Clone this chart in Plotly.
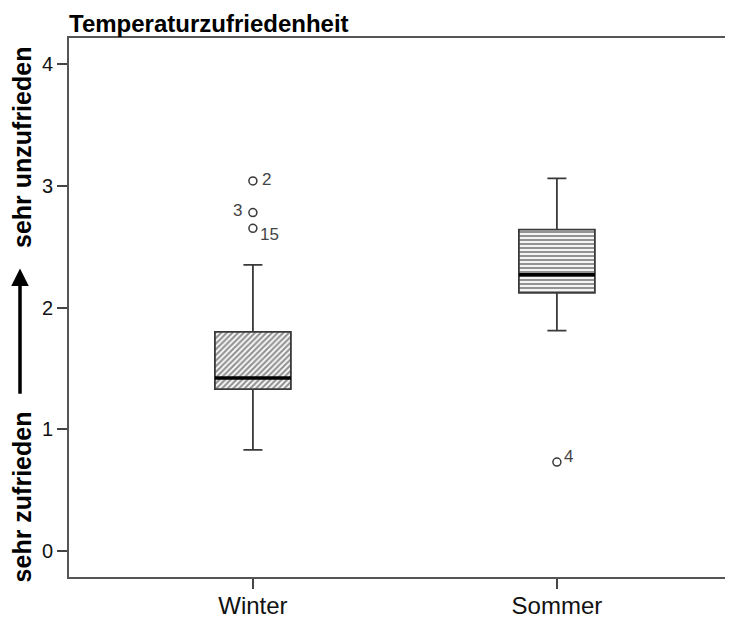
import plotly.graph_objects as go

# Box statistics
seasons = ["Winter", "Sommer"]
q1 = [1.33, 2.12]
median = [1.42, 2.27]
q3 = [1.80, 2.64]
lower_whisker = [0.83, 1.81]
upper_whisker = [2.35, 3.06]

# Outliers with their case numbers
out_group = [0, 0, 0, 1]
out_value = [3.04, 2.78, 2.65, 0.73]
out_case = ["2", "3", "15", "4"]
out_shift = [(14, 1), (-15, 2), (17, -6), (12, 6)]

patterns = ["/", "-"]
box_w = 0.25
font = "Liberation Sans, Arial, sans-serif"
line_col = "#3a3a3a"
pos = list(range(len(seasons)))

fig = go.Figure()

# hatched box bodies
for i in pos:
    fig.add_trace(go.Bar(
        x=[i], y=[q3[i] - q1[i]], base=[q1[i]], width=box_w,
        marker=dict(color="white", line=dict(width=0),
                    pattern=dict(shape=patterns[i], fgcolor="#2a2a2a", bgcolor="white",
                                 size=4, solidity=0.55)),
        showlegend=False, hoverinfo="skip"
    ))

# box outlines and whiskers
fig.add_trace(go.Box(
    x=pos, q1=q1, median=median, q3=q3,
    lowerfence=lower_whisker, upperfence=upper_whisker,
    width=box_w, whiskerwidth=0.25, boxpoints=False,
    fillcolor="rgba(0,0,0,0)", line=dict(color=line_col, width=1.8),
    showlegend=False
))

# thick median lines
for i in pos:
    fig.add_trace(go.Scatter(
        x=[i - box_w / 2, i + box_w / 2], y=[median[i], median[i]], mode="lines",
        line=dict(color="black", width=3.5), showlegend=False, hoverinfo="skip"
    ))

# outliers
fig.add_trace(go.Scatter(
    x=out_group, y=out_value, mode="markers",
    marker=dict(symbol="circle-open", size=8, color=line_col, line=dict(width=1.5)),
    showlegend=False
))
for g, v, c, (dx, dy) in zip(out_group, out_value, out_case, out_shift):
    fig.add_annotation(x=g, y=v, text=c, showarrow=False, xshift=dx, yshift=dy,
                       font=dict(family=font, size=17, color="#444444"))

# Y axis title with arrow
title_x = -47 / 656
fig.add_annotation(x=title_x, xref="paper", xanchor="center", y=0.44, yref="y",
                   text="<b>sehr zufrieden</b>", textangle=-90, showarrow=False,
                   font=dict(family=font, size=25, color="black"))
fig.add_annotation(x=title_x, xref="paper", xanchor="center", y=3.31, yref="y",
                   text="<b>sehr unzufrieden</b>", textangle=-90, showarrow=False,
                   font=dict(family=font, size=25, color="black"))
fig.add_annotation(x=-49 / 656, xref="paper", y=2.32, yref="y", text="",
                   showarrow=True, axref="pixel", ax=0, ayref="y", ay=1.28,
                   arrowhead=2, arrowsize=1, arrowwidth=3.5, arrowcolor="black", standoff=0)

fig.update_layout(
    width=717, height=612,
    margin=dict(l=61, r=0, t=30, b=43),
    paper_bgcolor="white", plot_bgcolor="white",
    barmode="overlay",
    title=dict(text="<b>Temperaturzufriedenheit</b>", x=61 / 717, xanchor="left",
               y=1 - 16 / 612, yanchor="middle",
               font=dict(family=font, size=24, color="black")),
    xaxis=dict(range=[-0.605, 1.553], tickvals=pos, ticktext=seasons,
               showline=True, mirror=True, linecolor="#555555", automargin=False,
               linewidth=2, ticks="outside", ticklen=10, tickwidth=1.5, tickcolor="#444444",
               ticklabelstandoff=-4, showgrid=False, zeroline=False,
               tickfont=dict(family=font, size=24, color="#111111")),
    yaxis=dict(range=[-0.2136, 4.2136], tickvals=[0, 1, 2, 3, 4], automargin=False,
               showline=True, linecolor="#555555", linewidth=2,
               ticks="outside", ticklen=10, tickwidth=1.5, tickcolor="#444444",
               showgrid=False, zeroline=False,
               tickfont=dict(family=font, size=20, color="#111111")),
)

fig.write_html("out.html")
